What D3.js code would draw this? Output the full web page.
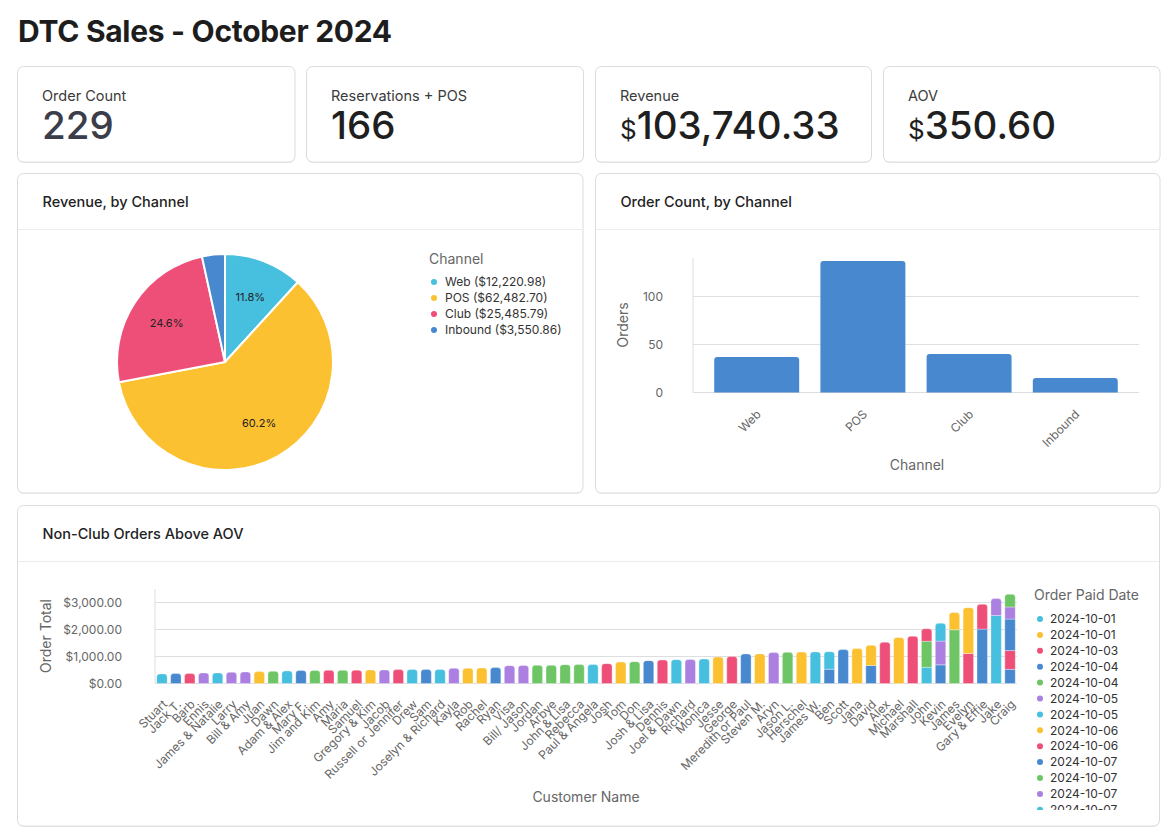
<!DOCTYPE html>
<html>
<head>
<meta charset="utf-8">
<script src="https://cdn.jsdelivr.net/npm/d3@7"></script>
<style>
  html, body { margin: 0; padding: 0; background: #fff; }
  svg { display: block; font-family: Inter, "Noto Sans", sans-serif; }
</style>
</head>
<body>
<svg id="c" width="1173" height="834"></svg>
<script>
// ---------------- DATA ----------------
const kpiLabels = ["Order Count", "Reservations + POS", "Revenue", "AOV"];
const kpiValues = ["229", "166", "103,740.33", "350.60"];
const kpiPrefix = ["", "", "$", "$"];

const channels = ["Web", "POS", "Club", "Inbound"];
const channelRevenue = [12220.98, 62482.70, 25485.79, 3550.86];
const channelOrders = [37, 137, 40, 15];

const customers = ["Stuart", "Jack T.", "Barb", "Ennis", "James & Natalie", "Larry", "Bill & Amy", "Juan", "Dawn",
  "Adam & Alex", "Mary F.", "Jim and Kim", "Amy", "Maria", "Samuel", "Gregory & Kim", "Jacob", "Russell or Jennifer",
  "Drew", "Sam", "Joselyn & Richard", "Kayla", "Rob", "Rachel", "Ryan", "Visa", "Bill/ Jason", "Jordan", "Arbye",
  "John & Lisa", "Rebecca", "Paul & Angela", "Josh", "Tom", "Don", "Josh & Lisa", "Dennis", "Joel & Dawn", "Richard",
  "Monica", "Jesse", "George", "Meredith or Paul", "Steven M.", "Aryn", "Jason L.", "Herschel", "James W.", "Ben",
  "Scott", "Jana", "David", "Alex", "Michael", "Marshall", "John", "Kevin", "James", "Evelyn", "Gary & Effie", "Jake", "Craig"];

// order totals per customer (stack segments, bottom to top)
const orderTotals = [[355], [366], [368], [390], [392], [415], [428], [440], [452],
  [465], [477], [479], [489], [490], [492], [502], [504], [514],
  [515], [516], [518], [563], [565], [576], [588], [662], [664], [672], [674],
  [698], [700], [702], [736], [798], [810], [847], [872], [884], [886],
  [909], [983], [996], [1095], [1097], [1144], [1156], [1166], [1168], [530, 650],
  [1255], [1292], [665, 750], [1527], [1700], [1749], [600, 965, 465], [690, 880, 660], [1990, 636], [1110, 1700], [2015, 920], [2520, 625],
  [525, 695, 1165, 450, 470]];
// series (order paid date) slot of each segment, 0..5 in palette order
const orderSeries = [[0], [3], [2], [5], [0], [5], [5], [1], [4],
  [0], [3], [4], [2], [4], [2], [1], [5], [2],
  [0], [3], [0], [5], [1], [1], [3], [5], [5], [4], [4],
  [4], [4], [0], [2], [1], [4], [3], [2], [0], [5],
  [0], [1], [2], [3], [1], [5], [4], [1], [0], [3, 0],
  [3], [1], [3, 1], [2], [1], [2], [0, 4, 2], [3, 5, 0], [4, 1], [2, 1], [3, 2], [0, 5],
  [3, 2, 3, 5, 4]];
const paidDates = ["2024-10-01", "2024-10-01", "2024-10-03", "2024-10-04", "2024-10-04", "2024-10-05", "2024-10-05",
  "2024-10-06", "2024-10-06", "2024-10-07", "2024-10-07", "2024-10-07", "2024-10-07"];

const palette = ["#47BFDF", "#FBC131", "#EE4F78", "#4788CF", "#6DC565", "#AB80E1"];
const channelColors = ["#47BFDF", "#FBC131", "#EE4F78", "#4788CF"];

// ---------------- HELPERS ----------------
const svg = d3.select("#c");
const FONT = 'Inter, "Noto Sans", sans-serif';

function card(x, y, w, h) {
  svg.append("rect").attr("x", x).attr("y", y + 1).attr("width", w).attr("height", h)
    .attr("rx", 6).attr("fill", "#ececec");
  svg.append("rect").attr("x", x).attr("y", y).attr("width", w).attr("height", h)
    .attr("rx", 6).attr("fill", "#fff").attr("stroke", "#dcdcdc").attr("stroke-width", 1);
}
function topRounded(x, y, w, h, r) {
  r = Math.min(r, w / 2, h);
  return `M${x},${y + h}V${y + r}Q${x},${y} ${x + r},${y}H${x + w - r}Q${x + w},${y} ${x + w},${y + r}V${y + h}Z`;
}

// ---------------- TITLE ----------------
svg.append("text").attr("x", 18).attr("y", 42).text("DTC Sales - October 2024")
  .attr("font-size", 30).attr("font-weight", 700).attr("fill", "#1d1d1d").attr("letter-spacing", "-0.3");

// ---------------- KPI CARDS ----------------
const kpiX = [17.5, 306.5, 595.5, 883.5];
const kpiW = [277.5, 277, 276, 276.5];
kpiLabels.forEach((lab, i) => {
  card(kpiX[i], 66.5, kpiW[i], 95.5);
  svg.append("text").attr("x", kpiX[i] + 24.5).attr("y", 100.5).text(lab)
    .attr("font-size", 14.5).attr("fill", "#3a3a3a");
  const t = svg.append("text").attr("x", kpiX[i] + 24.5).attr("y", 139)
    .attr("fill", i === 0 ? "#3b3d4a" : "#1f1f1f");
  if (kpiPrefix[i]) t.append("tspan").text(kpiPrefix[i]).attr("font-size", 26);
  t.append("tspan").text(kpiValues[i]).attr("font-size", 38.5).attr("font-weight", 500);
});

// ---------------- PANELS ----------------
function panel(x, y, w, h, title) {
  card(x, y, w, h);
  svg.append("line").attr("x1", x + 0.5).attr("x2", x + w - 0.5).attr("y1", y + 56).attr("y2", y + 56)
    .attr("stroke", "#ececec");
  svg.append("text").attr("x", x + 25).attr("y", y + 33.5).text(title)
    .attr("font-size", 14.5).attr("font-weight", 500).attr("fill", "#222");
}
panel(17.5, 173.5, 565.5, 319.5, "Revenue, by Channel");
panel(595.5, 173.5, 564.5, 319.5, "Order Count, by Channel");
panel(17.5, 505.5, 1142, 320.5, "Non-Club Orders Above AOV");

// ---------------- PIE ----------------
{
  const cx = 225, cy = 362, R = 108;
  const total = d3.sum(channelRevenue);
  const pie = d3.pie().sort(null).value(d => d)(channelRevenue);
  const arc = d3.arc().innerRadius(0).outerRadius(R);
  const labelArc = d3.arc().innerRadius(70).outerRadius(70);
  const g = svg.append("g").attr("transform", `translate(${cx},${cy})`);
  g.selectAll("path").data(pie).join("path")
    .attr("d", arc).attr("fill", (d, i) => channelColors[i])
    .attr("stroke", "#fff").attr("stroke-width", 2).attr("stroke-linejoin", "round");
  g.selectAll("text").data(pie.filter(d => d.value / total > 0.05)).join("text")
    .attr("transform", d => `translate(${labelArc.centroid(d)})`)
    .attr("text-anchor", "middle").attr("dy", "0.35em")
    .attr("font-size", 11).attr("fill", "#222")
    .text(d => (d.value / total * 100).toFixed(1) + "%");

  const lg = svg.append("g").attr("transform", "translate(429,0)");
  lg.append("text").attr("x", 0).attr("y", 264).text("Channel").attr("font-size", 14).attr("fill", "#666");
  const fmt = d3.format(",.2f");
  channels.forEach((c, i) => {
    const y = 282 + i * 16;
    lg.append("circle").attr("cx", 5).attr("cy", y).attr("r", 3).attr("fill", channelColors[i]);
    lg.append("text").attr("x", 16).attr("y", y).attr("dy", "0.35em").attr("font-size", 12).attr("fill", "#333")
      .text(`${c} ($${fmt(channelRevenue[i])})`);
  });
}

// ---------------- BAR CHART ----------------
{
  const x = d3.scaleBand().domain(channels).range([693, 1139]).paddingInner(0.2).paddingOuter(0.2);
  const y = d3.scaleLinear().domain([0, 140]).range([392.5, 258]);
  const g = svg.append("g");
  g.selectAll("line.grid").data([0, 50, 100]).join("line").attr("class", "grid")
    .attr("x1", 693).attr("x2", 1139).attr("y1", d => y(d)).attr("y2", d => y(d))
    .attr("stroke", "#dedede");
  g.append("line").attr("x1", 693).attr("x2", 693).attr("y1", 258).attr("y2", 392.5).attr("stroke", "#dedede");
  const ya = g.append("g").attr("transform", "translate(693,0)")
    .call(d3.axisLeft(y).tickValues([0, 50, 100]).tickSize(0).tickPadding(30));
  ya.select(".domain").remove();
  ya.selectAll("text").attr("font-size", 12).attr("fill", "#666").attr("font-family", FONT);
  g.selectAll("path.bar").data(channels).join("path").attr("class", "bar")
    .attr("d", (d, i) => topRounded(x(d), y(channelOrders[i]), x.bandwidth(), y(0) - y(channelOrders[i]), 3))
    .attr("fill", "#4788CF");
  g.selectAll("text.xl").data(channels).join("text").attr("class", "xl")
    .attr("transform", d => `translate(${x(d) + x.bandwidth() / 2 + 5},${415}) rotate(-45)`)
    .attr("text-anchor", "end").attr("font-size", 12).attr("fill", "#666").text(d => d);
  g.append("text").attr("x", 917).attr("y", 470).attr("text-anchor", "middle").attr("font-size", 14)
    .attr("fill", "#666").text("Channel");
  g.append("text").attr("transform", "translate(628,325) rotate(-90)").attr("text-anchor", "middle")
    .attr("font-size", 14).attr("fill", "#666").text("Orders");
}

// ---------------- STACKED BAR CHART ----------------
{
  const x = d3.scaleBand().domain(customers).range([155, 1017]).paddingInner(0.25).paddingOuter(0.125);
  const y = d3.scaleLinear().domain([0, 3500]).range([683.5, 589]);
  const g = svg.append("g");
  const ticks = [0, 1000, 2000, 3000];
  g.selectAll("line.grid").data(ticks).join("line").attr("class", "grid")
    .attr("x1", 155).attr("x2", 1017).attr("y1", d => y(d)).attr("y2", d => y(d)).attr("stroke", "#dedede");
  g.append("line").attr("x1", 155).attr("x2", 155).attr("y1", 589).attr("y2", 683.5).attr("stroke", "#dedede");
  const ya = g.append("g").attr("transform", "translate(155,0)")
    .call(d3.axisLeft(y).tickValues(ticks).tickSize(0).tickPadding(33).tickFormat(d3.format("$,.2f")));
  ya.select(".domain").remove();
  ya.selectAll("text").attr("font-size", 12).attr("fill", "#666").attr("font-family", FONT);

  customers.forEach((c, i) => {
    const vals = orderTotals[i];
    let cum = 0;
    vals.forEach((v, j) => {
      const y0 = y(cum), y1 = y(cum + v);
      cum += v;
      const isTop = j === vals.length - 1;
      g.append("path")
        .attr("d", topRounded(x(c), y1, x.bandwidth(), y0 - y1, isTop ? 3 : 0))
        .attr("fill", palette[orderSeries[i][j]])
        .attr("stroke", "#fff").attr("stroke-opacity", 0.55).attr("stroke-width", 0.6);
    });
  });
  g.selectAll("text.xl").data(customers).join("text").attr("class", "xl")
    .attr("transform", d => `translate(${x(d) + x.bandwidth() / 2 + 6},${705}) rotate(-45)`)
    .attr("text-anchor", "end").attr("font-size", 12).attr("fill", "#666").text(d => d);
  g.append("text").attr("x", 586).attr("y", 802).attr("text-anchor", "middle").attr("font-size", 14)
    .attr("fill", "#666").text("Customer Name");
  g.append("text").attr("transform", "translate(51,636) rotate(-90)").attr("text-anchor", "middle")
    .attr("font-size", 14).attr("fill", "#666").text("Order Total");

  // legend
  svg.append("defs").append("clipPath").attr("id", "lgclip")
    .append("rect").attr("x", 1025).attr("y", 575).attr("width", 134).attr("height", 235);
  const lg = svg.append("g").attr("clip-path", "url(#lgclip)");
  lg.append("text").attr("x", 1034).attr("y", 600).text("Order Paid Date").attr("font-size", 14).attr("fill", "#666");
  paidDates.forEach((d, i) => {
    const yy = 619 + i * 15.9;
    lg.append("circle").attr("cx", 1040).attr("cy", yy).attr("r", 3).attr("fill", palette[i % 6]);
    lg.append("text").attr("x", 1050).attr("y", yy).attr("dy", "0.35em").attr("font-size", 12).attr("fill", "#333").text(d);
  });
}
</script>
</body>
</html>
